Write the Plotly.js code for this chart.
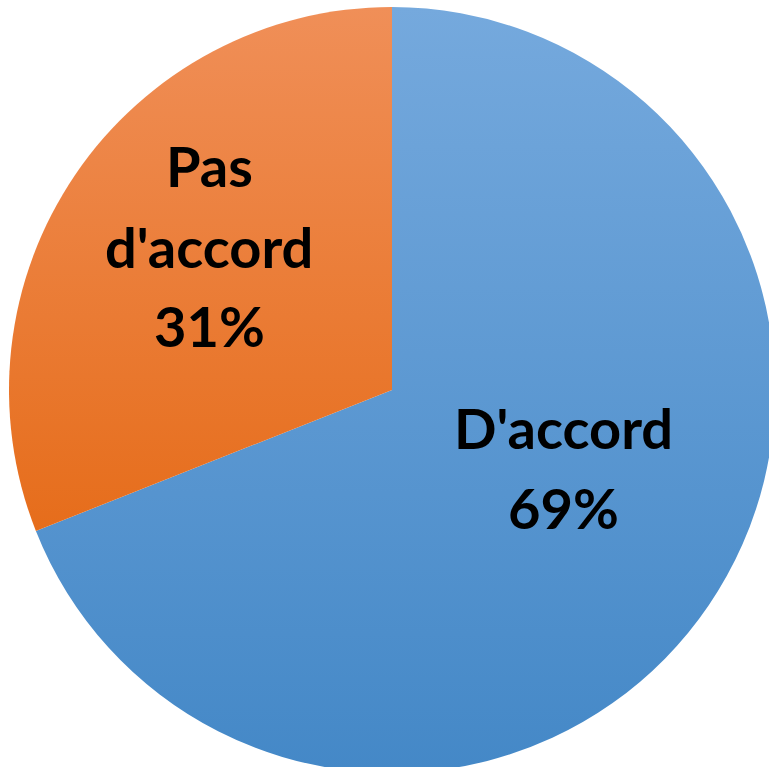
<!DOCTYPE html>
<html>
<head>
<meta charset="utf-8">
<script src="https://cdn.plot.ly/plotly-3.0.1.min.js"></script>
<style>
html,body{margin:0;padding:0;overflow:hidden;background:#fff;}
#chart{width:776px;height:774px;}
</style>
</head>
<body>
<div id="chart"></div>
<script>
// ---- data ----
const labels = ["D'accord", "Pas d'accord"];
const values = [69, 31];
const colors = ["#5B9BD5", "#ED7D31"];
const gradTop = ["#75A9DD", "#F08F58"];
const gradBottom = ["#4488C7", "#E66D1B"];

// ---- layout helpers ----
const W = 776, H = 774;
const labelCenters = [[563, 467], [209, 246]]; // px: x center, block center
const lineStep = 80;
const fontSize = 56;

const annotations = [];
labels.forEach((lab, i) => {
  const lines = lab.split(' ').concat([values[i] + '%']);
  const n = lines.length;
  lines.forEach((ln, k) => {
    const py = labelCenters[i][1] + (k - (n - 1) / 2) * lineStep;
    annotations.push({
      xref: 'paper', yref: 'paper',
      x: labelCenters[i][0] / W, y: 1 - py / H,
      xanchor: 'center', yanchor: 'middle',
      text: ln, showarrow: false,
      font: {family: 'Lato, "Open Sans", sans-serif', size: fontSize, color: '#000', weight: 'bold'}
    });
  });
});

const trace = {
  type: 'pie',
  labels: labels,
  values: values,
  sort: false,
  direction: 'clockwise',
  rotation: 0,
  textinfo: 'none',
  hoverinfo: 'none',
  marker: {colors: colors, line: {width: 0}},
  domain: {x: [9 / W, 775 / W], y: [1 / H, 767 / H]},
  showlegend: false
};

const layout = {
  width: W, height: H,
  margin: {l: 0, r: 0, t: 0, b: 0},
  paper_bgcolor: '#fff',
  showlegend: false,
  annotations: annotations
};

Plotly.newPlot('chart', [trace], layout, {displayModeBar: false, staticPlot: true}).then(gd => {
  const svg = gd.querySelector('svg.main-svg');
  const NS = 'http://www.w3.org/2000/svg';
  let defs = svg.querySelector('defs');
  if (!defs) { defs = document.createElementNS(NS, 'defs'); svg.insertBefore(defs, svg.firstChild); }
  labels.forEach((l, i) => {
    const g = document.createElementNS(NS, 'linearGradient');
    g.setAttribute('id', 'sliceGrad' + i);
    g.setAttribute('x1', '0'); g.setAttribute('y1', '0');
    g.setAttribute('x2', '0'); g.setAttribute('y2', '1');
    const s1 = document.createElementNS(NS, 'stop');
    s1.setAttribute('offset', '0'); s1.setAttribute('stop-color', gradTop[i]);
    const s2 = document.createElementNS(NS, 'stop');
    s2.setAttribute('offset', '1'); s2.setAttribute('stop-color', gradBottom[i]);
    g.appendChild(s1); g.appendChild(s2);
    defs.appendChild(g);
  });
  const paths = gd.querySelectorAll('.slice path.surface');
  paths.forEach((p, i) => { p.style.fill = 'url(#sliceGrad' + i + ')'; });
});
</script>
</body>
</html>
